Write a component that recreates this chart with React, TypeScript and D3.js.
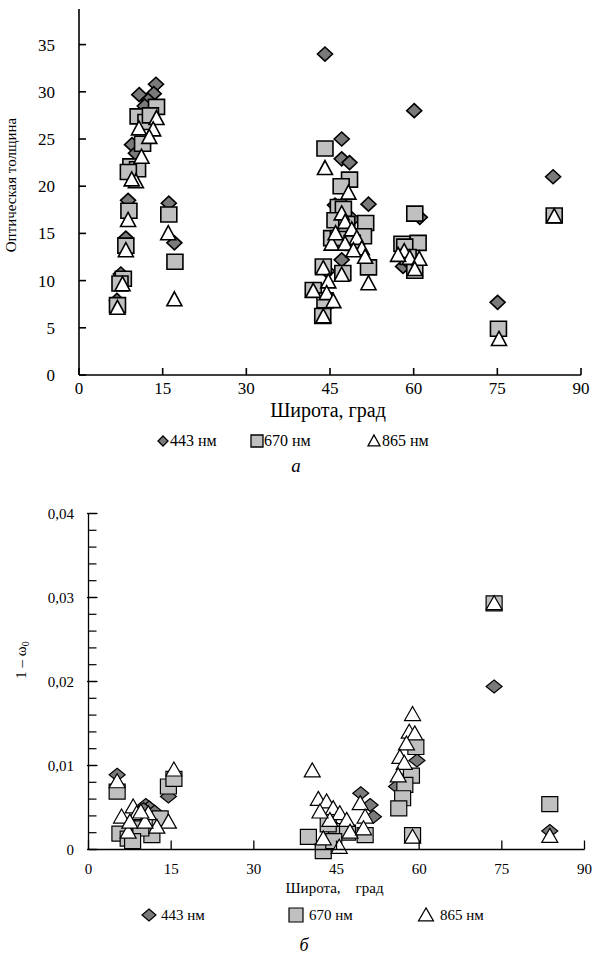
import React from "react";
import * as d3 from "d3";

// ---------- DATA ----------
// Top chart: optical thickness vs latitude
const topLat443 = [13.8, 10.8, 13.4, 12.4, 11.8, 9.5, 10.2, 8.8, 8.4, 7.5, 6.8, 16.1, 17.1, 44.1, 47.1, 47.1, 48.5, 51.9, 46.5, 47.1, 45.9, 49.0, 44.5, 43.8, 60.1, 61.1, 58.1, 59.0, 75.05, 85.0];
const topVal443 = [30.8, 29.7, 29.8, 29.1, 28.5, 24.4, 23.5, 18.5, 14.5, 10.7, 7.9, 18.2, 14.0, 34.0, 25.0, 22.9, 22.5, 18.1, 17.8, 12.2, 18.0, 16.5, 11.0, 7.0, 28.0, 16.7, 11.5, 12.0, 7.7, 21.0];

const topLat670 = [13.9, 10.6, 12.0, 12.8, 11.4, 9.3, 10.5, 8.85, 8.95, 8.4, 7.95, 7.35, 6.9, 16.1, 17.2, 44.1, 48.5, 47.0, 51.4, 46.5, 47.4, 45.9, 45.3, 46.5, 51.0, 49.0, 43.8, 47.3, 51.9, 42.0, 44.1, 43.7, 48.0, 60.2, 57.9, 60.8, 58.4, 60.2, 59.0, 75.2, 85.2];
const topVal670 = [28.4, 27.4, 26.8, 27.5, 24.5, 22.1, 21.8, 21.5, 17.4, 13.7, 10.2, 9.7, 7.4, 17.0, 12.0, 24.0, 20.7, 20.0, 16.1, 17.8, 17.6, 16.4, 14.5, 14.5, 14.7, 14.0, 11.5, 10.8, 11.4, 9.0, 7.9, 6.25, 16.0, 17.1, 13.9, 14.0, 13.6, 11.05, 12.5, 4.9, 16.9];

const topLat865 = [13.9, 10.75, 13.3, 12.6, 11.2, 10.2, 9.45, 8.8, 8.4, 7.8, 6.9, 16.0, 17.1, 44.1, 48.3, 47.1, 47.7, 48.9, 49.8, 45.3, 47.7, 50.7, 49.2, 51.3, 43.8, 47.1, 51.9, 42.0, 44.7, 44.4, 45.6, 43.8, 46.0, 58.3, 59.3, 61.0, 57.2, 60.2, 75.3, 85.2];
const topVal865 = [27.2, 26.1, 26.0, 25.2, 23.1, 20.5, 20.7, 16.4, 13.2, 9.6, 7.1, 15.0, 8.0, 21.9, 19.3, 17.1, 16.2, 15.4, 14.5, 13.9, 13.9, 13.4, 13.2, 12.5, 11.3, 10.6, 9.7, 8.9, 9.9, 8.65, 7.8, 6.2, 15.0, 13.1, 12.4, 12.3, 12.7, 11.2, 3.8, 16.8];

// Bottom chart: 1 - omega0 vs latitude
const botLat443 = [5.2, 14.5, 10.4, 11.0, 10.0, 12.0, 7.5, 9.0, 49.4, 51.1, 51.7, 44.0, 46.0, 59.6, 55.9, 58.5, 73.6, 83.7];
const botVal443 = [0.0089, 0.0063, 0.0053, 0.005, 0.0048, 0.0045, 0.002, 0.003, 0.0067, 0.0053, 0.0039, 0.003, 0.0025, 0.0106, 0.0075, 0.009, 0.0194, 0.0022];

const botLat670 = [5.2, 14.5, 15.5, 5.7, 7.2, 11.5, 13.0, 9.5, 8.0, 39.9, 42.6, 50.2, 45.0, 47.0, 43.5, 44.5, 59.4, 58.6, 57.4, 57.0, 56.3, 58.8, 73.6, 83.7];
const botVal670 = [0.0069, 0.0075, 0.0084, 0.0019, 0.0013, 0.0017, 0.0037, 0.0025, 0.001, 0.0015, -0.0002, 0.0017, 0.0022, 0.002, 0.003, 0.001, 0.0122, 0.0088, 0.0077, 0.0061, 0.0049, 0.0017, 0.0293, 0.0054];

const botLat865 = [5.2, 15.5, 14.5, 6.0, 8.1, 7.2, 8.75, 10.85, 12.4, 7.5, 10.25, 9.5, 40.6, 41.7, 43.2, 44.4, 45.6, 46.85, 47.45, 49.3, 50.2, 49.9, 42.6, 45.5, 43.8, 42.0, 58.8, 58.2, 59.2, 57.7, 56.5, 57.3, 56.2, 58.8, 73.6, 83.7];
const botVal865 = [0.0081, 0.0095, 0.0033, 0.0039, 0.0051, 0.0021, 0.0043, 0.0043, 0.0027, 0.0033, 0.0033, 0.0045, 0.0094, 0.006, 0.0057, 0.0049, 0.0043, 0.0035, 0.0021, 0.0055, 0.0039, 0.0025, 0.0013, 0.0003, 0.0035, 0.0045, 0.0161, 0.014, 0.0138, 0.0126, 0.011, 0.0103, 0.0088, 0.0015, 0.0293, 0.0016];

const xTicks = [0, 15, 30, 45, 60, 75, 90];
const topYTicks = [0, 5, 10, 15, 20, 25, 30, 35];
const botYTicks = [0, 0.01, 0.02, 0.03, 0.04];
const botYLabels = ["0", "0,01", "0,02", "0,03", "0,04"];
const legendLabels = ["443 нм", "670 нм", "865 нм"];
const botLegendLabels = ["443  нм", "670  нм", "865  нм"];

const FONT = "'Liberation Serif', 'Times New Roman', serif";
const C443 = "#7a7a7a";
const C670 = "#c0c0c0";
const C865 = "#ffffff";

function zip(a: number[], b: number[]) {
  return a.map((v, i) => [v, b[i]] as [number, number]);
}

function diamondPath(w: number, h: number) {
  return `M0,${-h / 2}L${w / 2},0L0,${h / 2}L${-w / 2},0Z`;
}
function squarePath(w: number, h: number) {
  return `M${-w / 2},${-h / 2}H${w / 2}V${h / 2}H${-w / 2}Z`;
}
function trianglePath(w: number, h: number) {
  return `M0,${-h * 0.55}L${w / 2},${h * 0.45}L${-w / 2},${h * 0.45}Z`;
}

export default function App() {
  // Top chart scales
  const xT = d3.scaleLinear().domain([0, 90]).range([79, 581]);
  const yT = d3.scaleLinear().domain([0, 35]).range([375, 44.6]);
  const yTopEnd = 9;

  // Bottom chart scales
  const xB = d3.scaleLinear().domain([0, 90]).range([88.5, 584.5]);
  const yB = d3.scaleLinear().domain([0, 0.04]).range([849.5, 513.5]);
  const minorB = d3.range(0, 0.0401, 0.002);

  const topSeries = [
    { pts: zip(topLat443, topVal443), path: diamondPath(15, 14), fill: C443 },
    { pts: zip(topLat670, topVal670), path: squarePath(16, 15), fill: C670 },
    { pts: zip(topLat865, topVal865), path: trianglePath(15, 14), fill: C865 },
  ];
  const botSeries = [
    { pts: zip(botLat443, botVal443), path: diamondPath(16, 13), fill: C443 },
    { pts: zip(botLat670, botVal670), path: squarePath(16, 15), fill: C670 },
    { pts: zip(botLat865, botVal865), path: trianglePath(16, 14), fill: C865 },
  ];

  return (
    <svg width={592} height={972} style={{ position: "absolute", left: 0, top: 0, background: "#fff" }} fontFamily={FONT}>
      <rect width={592} height={972} fill="#fff" />
      {/* ===== TOP CHART ===== */}
      <g>
        {topSeries.map((s, si) => (
          <g key={si}>
            {s.pts.map((p, i) => (
              <path key={i} d={s.path} transform={`translate(${xT(p[0])},${yT(p[1])})`} fill={s.fill} stroke="#000" strokeWidth={1.6} strokeLinejoin="miter" />
            ))}
          </g>
        ))}
        <line x1={xT(0)} x2={xT(0)} y1={yTopEnd} y2={yT(0)} stroke="#000" strokeWidth={1.6} />
        <line x1={xT(0)} x2={xT(90)} y1={yT(0)} y2={yT(0)} stroke="#000" strokeWidth={1.6} />
        {topYTicks.map((t) => (
          <g key={t}>
            <line x1={xT(0)} x2={xT(0) + 7} y1={yT(t)} y2={yT(t)} stroke="#000" strokeWidth={1.6} />
            <text x={55} y={yT(t)} dy="0.35em" textAnchor="end" fontSize={17}>{t}</text>
          </g>
        ))}
        {xTicks.map((t) => (
          <g key={t}>
            <line x1={xT(t)} x2={xT(t)} y1={yT(0)} y2={yT(0) - 7} stroke="#000" strokeWidth={1.6} />
            <text x={xT(t)} y={394} textAnchor="middle" fontSize={17}>{t}</text>
          </g>
        ))}
        <text x={(xT(0) + xT(90)) / 2 - 2} y={417} textAnchor="middle" fontSize={20}>Широта, град</text>
        <text transform={`translate(16,185) rotate(-90)`} textAnchor="middle" fontSize={15}>Оптическая толщина</text>
        {/* legend */}
        <g fontSize={16}>
          <path d={diamondPath(10, 10)} transform="translate(163,441)" fill={C443} stroke="#000" strokeWidth={1.3} />
          <text x={170} y={446}>{legendLabels[0]}</text>
          <path d={squarePath(12, 12)} transform="translate(257,441)" fill={C670} stroke="#000" strokeWidth={1.3} />
          <text x={264} y={446}>{legendLabels[1]}</text>
          <path d={trianglePath(12, 11)} transform="translate(374,441)" fill={C865} stroke="#000" strokeWidth={1.3} />
          <text x={382} y={446}>{legendLabels[2]}</text>
        </g>
        <text x={296} y={472} textAnchor="middle" fontSize={19} fontStyle="italic">а</text>
      </g>

      {/* ===== BOTTOM CHART ===== */}
      <g>
        {botSeries.map((s, si) => (
          <g key={si}>
            {s.pts.map((p, i) => (
              <path key={i} d={s.path} transform={`translate(${xB(p[0])},${yB(p[1])})`} fill={s.fill} stroke="#000" strokeWidth={1.2} />
            ))}
          </g>
        ))}
        <line x1={xB(0)} x2={xB(0)} y1={yB(0.04)} y2={yB(0)} stroke="#000" strokeWidth={1.3} />
        <line x1={xB(0)} x2={xB(90)} y1={yB(0)} y2={yB(0)} stroke="#000" strokeWidth={1.3} />
        {minorB.map((t, i) => (
          <line key={i} x1={xB(0)} x2={xB(0) + 8} y1={yB(t)} y2={yB(t)} stroke="#000" strokeWidth={1.2} />
        ))}
        {botYTicks.map((t, i) => (
          <g key={t}>
            <line x1={xB(0) - 1.5} x2={xB(0) + 9} y1={yB(t)} y2={yB(t)} stroke="#000" strokeWidth={1.3} />
            <text x={74} y={yB(t)} dy="0.35em" textAnchor="end" fontSize={15}>{botYLabels[i]}</text>
          </g>
        ))}
        {xTicks.map((t) => (
          <g key={t}>
            <line x1={xB(t)} x2={xB(t)} y1={yB(0)} y2={yB(0) - 9} stroke="#000" strokeWidth={1.3} />
            <text x={xB(t)} y={874} textAnchor="middle" fontSize={15}>{t}</text>
          </g>
        ))}
        <text x={(xB(0) + xB(90)) / 2 - 2} y={893} textAnchor="middle" fontSize={15} style={{ whiteSpace: "pre" }}>Широта,    град</text>
        <text transform={`translate(26,660) rotate(-90)`} textAnchor="middle" fontSize={15}>
          1 – ω<tspan fontSize={10} dy={3}>0</tspan>
        </text>
        {/* legend */}
        <g fontSize={15} style={{ whiteSpace: "pre" }}>
          <path d={diamondPath(14, 12)} transform="translate(149,915)" fill={C443} stroke="#000" strokeWidth={1.2} />
          <text x={161} y={920}>{botLegendLabels[0]}</text>
          <path d={squarePath(14, 14)} transform="translate(296,915)" fill={C670} stroke="#000" strokeWidth={1.2} />
          <text x={309} y={920}>{botLegendLabels[1]}</text>
          <path d={trianglePath(15, 13)} transform="translate(426,915)" fill={C865} stroke="#000" strokeWidth={1.2} />
          <text x={440} y={920}>{botLegendLabels[2]}</text>
        </g>
        <text x={304} y={951} textAnchor="middle" fontSize={18} fontStyle="italic">б</text>
      </g>
    </svg>
  );
}
